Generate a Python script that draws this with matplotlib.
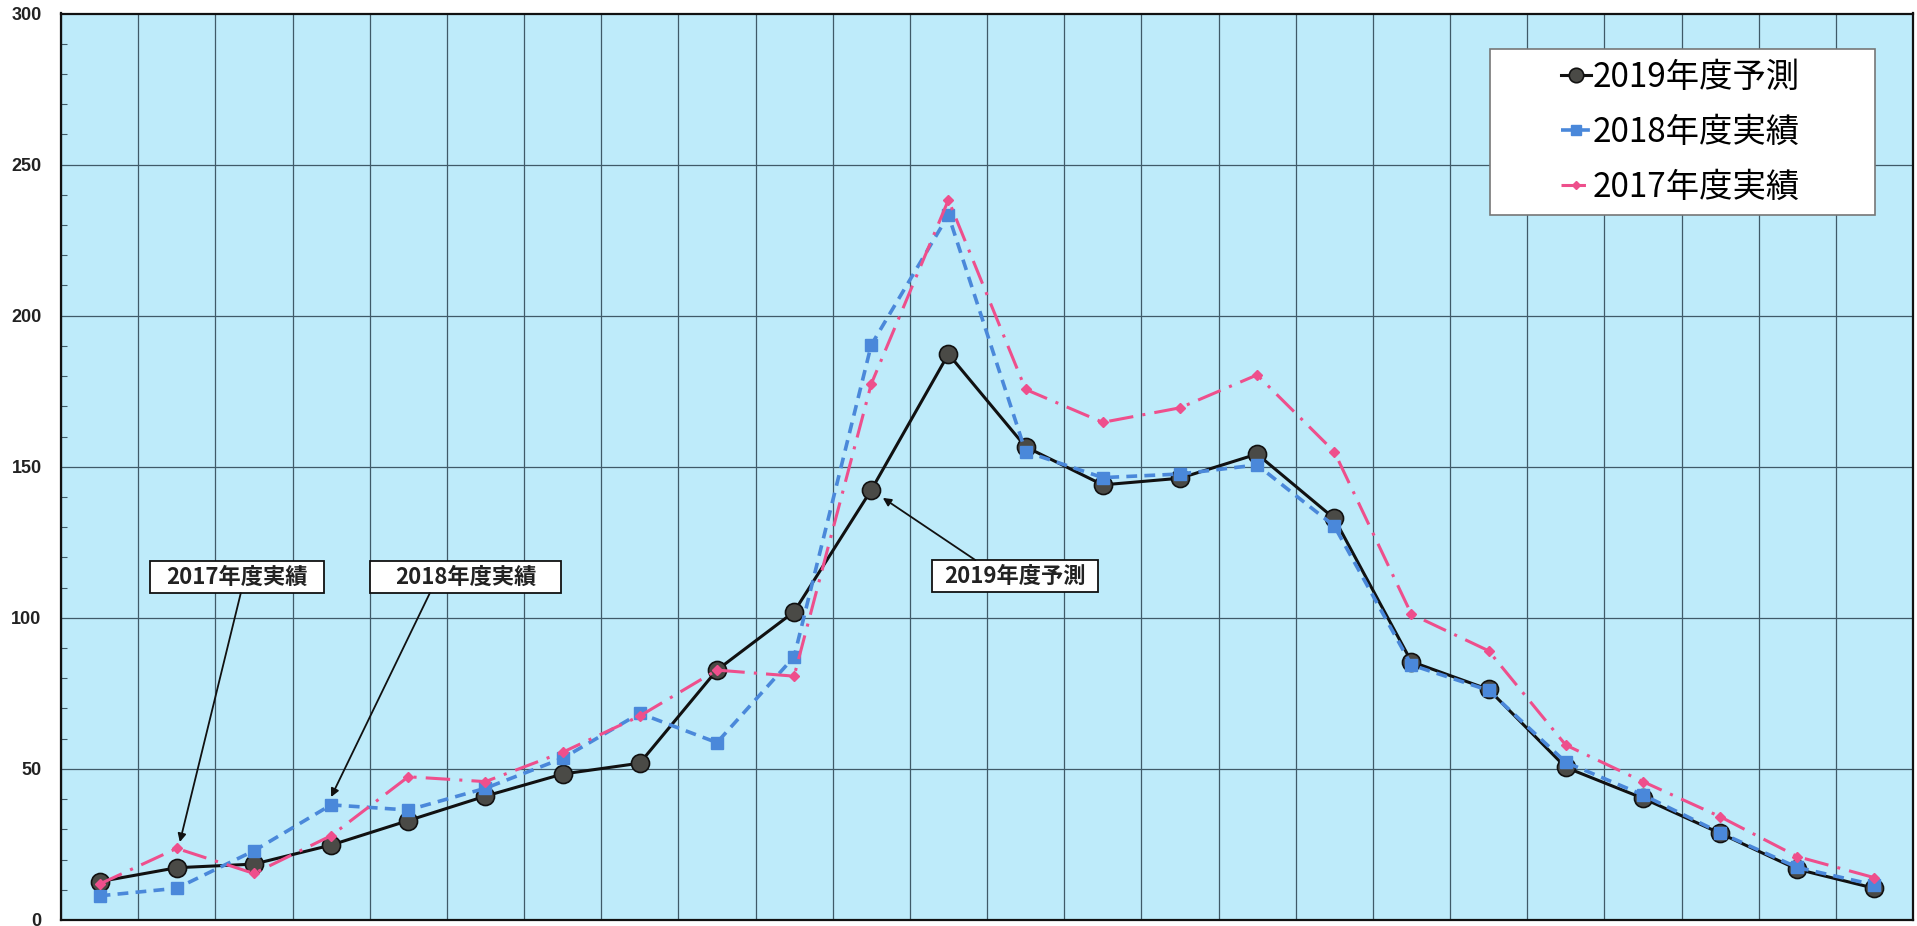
import numpy as np
import matplotlib
matplotlib.use('Agg')
from matplotlib import pyplot as plt
from matplotlib.patches import Rectangle
from matplotlib.ticker import MultipleLocator

plt.rcParams['font.family'] = ['Noto Sans CJK JP', 'DejaVu Sans']

# 24 periods along x, values per series
periods = np.arange(24)
forecast_2019 = [12.7, 17.3, 18.5, 24.8, 32.9, 41.0, 48.3, 51.9, 82.7, 102.0, 142.3, 187.3,
                 156.6, 144.0, 146.2, 154.2, 132.9, 85.5, 76.3, 50.5, 40.3, 28.7, 16.8, 10.5]
actual_2018 = [8.0, 10.5, 22.9, 38.1, 36.4, 43.6, 53.5, 68.4, 58.7, 87.1, 190.3, 233.3,
               155.0, 146.4, 147.6, 150.6, 130.4, 84.4, 76.0, 52.2, 41.4, 28.9, 17.4, 11.6]
actual_2017 = [11.9, 23.7, 15.4, 27.9, 47.4, 45.8, 55.5, 67.5, 82.7, 80.7, 177.4, 238.3,
               175.6, 164.7, 169.5, 180.4, 155.0, 101.2, 89.1, 57.9, 45.8, 34.2, 21.0, 14.0]
labels = ['2019年度予測', '2018年度実績', '2017年度実績']
yticks = [0, 50, 100, 150, 200, 250, 300]

fig = plt.figure(figsize=(19.17, 9.26), dpi=100)
ax = fig.add_axes([61 / 1917, 6 / 926, 1852 / 1917, 906.5 / 926])
ax.set_facecolor('#BEEBFA')

ax.set_xlim(-0.5, 23.5)
ax.set_ylim(0, 300)

# grid: horizontal every 50, vertical on cell borders
ax.set_yticks(yticks)
ax.set_yticklabels([str(v) for v in yticks], fontfamily='Liberation Sans',
                   fontweight='bold', fontsize=13, color='#222222')
ax.yaxis.set_minor_locator(MultipleLocator(10))
ax.set_xticks(np.arange(-0.5, 24, 1.0))
ax.set_xticklabels([])
ax.grid(True, which='major', color='#3f5a68', lw=0.9)
ax.set_axisbelow(True)
ax.tick_params(axis='x', length=0)
ax.tick_params(axis='y', which='major', length=0, pad=14)
ax.tick_params(axis='y', which='minor', direction='in', length=4, width=0.8, color='#3f5a68')
for sp in ax.spines.values():
    sp.set_color('#111111')
    sp.set_linewidth(1.6)

l19, = ax.plot(periods, forecast_2019, color='#111111', lw=2.2, marker='o', ms=13,
               mfc='#4a4a46', mec='#111111', mew=1.2, zorder=3)
l18, = ax.plot(periods, actual_2018, color='#4A88DA', lw=2.6, ls=(0, (3, 2)), marker='s', ms=9,
               mfc='#4A88DA', mec='#4A88DA', zorder=4)
l17, = ax.plot(periods, actual_2017, color='#EE4F8C', lw=2.2, ls=(0, (8, 3, 1, 3)), marker='D', ms=5,
               mfc='#EE4F8C', mec='#EE4F8C', zorder=5)

# callout boxes (data coords) with arrows to the points
callouts = [
    # label, box x0, x1, y0, y1, arrow start, arrow tip
    (labels[2], 0.653, 2.908, 108.2, 118.8, (1.83, 108.2), (1.04, 25.8)),
    (labels[1], 3.504, 5.979, 108.2, 118.8, (4.28, 108.2), (3.0, 40.7)),
    (labels[0], 10.787, 12.938, 108.5, 119.1, (11.35, 119.1), (10.15, 139.7)),
]
for text, x0, x1, y0, y1, start, tip in callouts:
    ax.add_patch(Rectangle((x0, y0), x1 - x0, y1 - y0, fc='white', ec='#111111', lw=1.3, zorder=6))
    ax.text((x0 + x1) / 2, (y0 + y1) / 2, text, ha='center', va='center', fontsize=16,
            fontweight='bold', color='#222222', zorder=7)
    ax.annotate('', xy=tip, xytext=start,
                arrowprops=dict(arrowstyle='-|>', color='#111111', lw=1.3, mutation_scale=12,
                                shrinkA=0, shrinkB=0), zorder=6)

# legend frame drawn separately for its wide side padding
ax.add_patch(Rectangle((0.7716, 0.7777), 0.2079, 0.1831, transform=ax.transAxes,
                       fc='white', ec='#777777', lw=1.2, zorder=7))
leg = ax.legend([l19, l18, l17], labels, loc='center', bbox_to_anchor=(0.8745, 0.8693),
                frameon=False, fontsize=24, handlelength=0.9, handletextpad=0.05,
                labelspacing=0.6, markerscale=0.8)
leg.set_zorder(8)

fig.savefig('out.png', dpi=100)
